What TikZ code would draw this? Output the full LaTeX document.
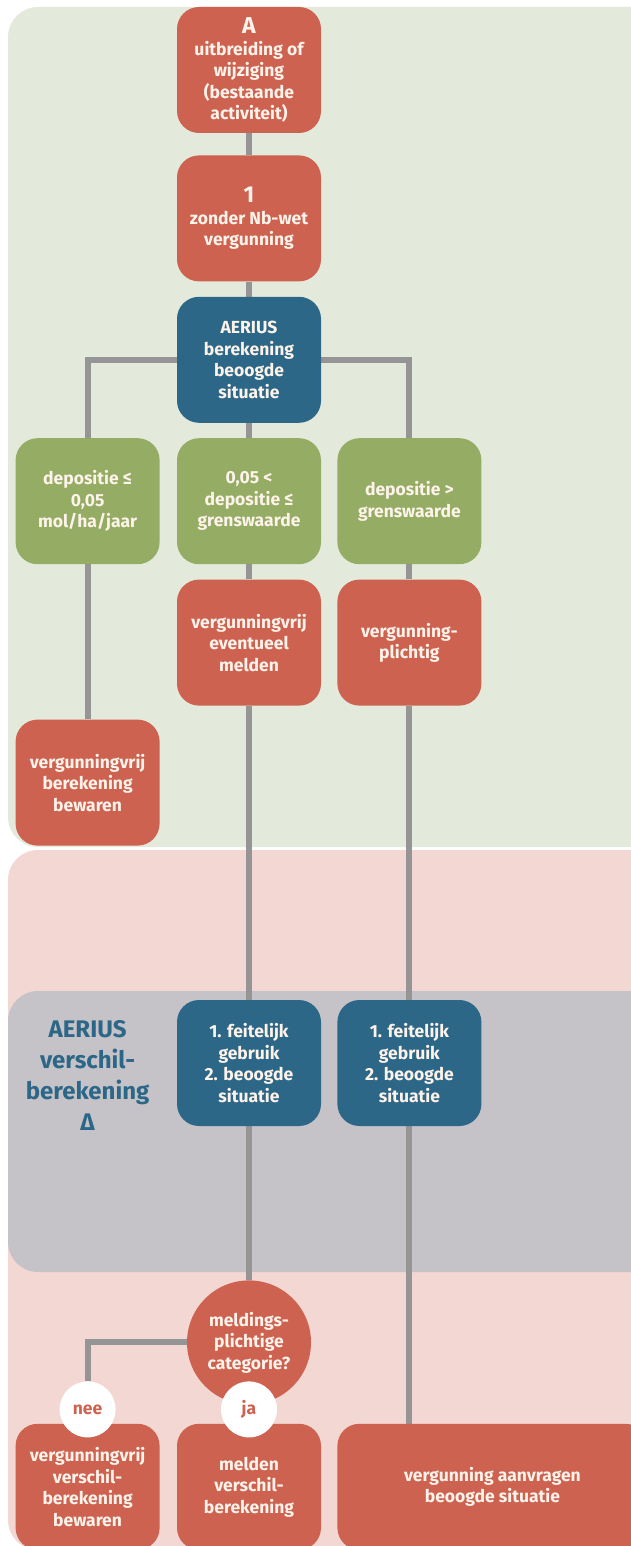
\documentclass[tikz,border=0pt]{standalone}
\usepackage{fontspec}
\setmainfont{Fira Sans}
\usepackage{xcolor}
\usetikzlibrary{positioning, backgrounds}

\definecolor{boxred}{HTML}{CD6250}
\definecolor{boxblue}{HTML}{2D6787}
\definecolor{boxgreen}{HTML}{94AC63}
\definecolor{greenbg}{HTML}{E3EADB}
\definecolor{pinkbg}{HTML}{F2D7D2}
\definecolor{graybg}{HTML}{C5C3C7}
\definecolor{linegray}{HTML}{959595}
\definecolor{textcream}{HTML}{FDF3EA}

\pgfdeclarelayer{lines}
\pgfsetlayers{background,lines,main}

\begin{document}
\begin{tikzpicture}[
        x=1pt, y=1pt,
        node distance=15pt and 17pt,
        every node/.style={font=\fontsize{17.5}{21.5}\selectfont\bfseries, text=textcream, align=center},
        redbox/.style={fill=boxred, rounded corners=22pt, minimum width=144pt, minimum height=126pt, inner sep=2pt},
        bluebox/.style={redbox, fill=boxblue},
        greenbox/.style={redbox, fill=boxgreen},
        questionbox/.style={circle, fill=boxred, minimum size=124pt, inner sep=0pt},
        answer/.style={circle, fill=white, minimum size=56pt, inner sep=0pt, text=boxred},
        bigtitle/.style={font=\fontsize{24}{31}\selectfont\bfseries, text=boxblue},
        link/.style={draw=linegray, line width=6pt}
    ]

    \clip (0,0) rectangle (631,-1546);

    % Main nodes
    \node[redbox] (start) at (249,-70) {{\fontsize{23}{22}\selectfont A}\\uitbreiding of\\wijziging\\(bestaande\\activiteit)};
    \node[redbox, below=22pt of start] (zonder) {{\fontsize{23}{25}\selectfont 1}\\zonder Nb-wet\\vergunning};
    \node[bluebox, below=of zonder] (aerius) {AERIUS\\berekening\\beoogde\\situatie};

    % Deposition classes
    \node[greenbox, below=of aerius] (depmid) {0,05 <\\depositie ≤\\grenswaarde};
    \node[greenbox, left=of depmid] (deplow) {depositie ≤\\0,05\\mol/ha/jaar};
    \node[greenbox, right=16pt of depmid] (dephigh) {depositie >\\grenswaarde};

    \node[redbox, below=of depmid] (meldvrij) {vergunningvrij\\eventueel\\melden};
    \node[redbox, below=of dephigh] (plichtig) {vergunning-\\plichtig};
    \node[redbox, below=155pt of deplow] (bewaren) {vergunningvrij\\berekening\\bewaren};

    % Difference calculation
    \node[bluebox, below=294pt of meldvrij] (verschil1) {1. feitelijk\\gebruik\\2. beoogde\\situatie};
    \node[bluebox, right=16pt of verschil1] (verschil2) {1. feitelijk\\gebruik\\2. beoogde\\situatie};
    \node[bigtitle, yshift=-12pt] (deltalabel) at (bewaren |- verschil1) {AERIUS\\verschil-\\berekening\\Δ};

    % Outcome
    \node[questionbox, below=154pt of verschil1] (categorie) {meldings-\\plichtige\\categorie?};
    \node[redbox, below=19pt of categorie] (melden) {melden\\verschil-\\berekening};
    \node[redbox, left=of melden] (verschilbew) {vergunningvrij\\verschil-\\berekening\\bewaren};
    \node[redbox, right=16pt of melden, minimum width=310pt] (aanvragen) {vergunning aanvragen\\beoogde situatie};
    \node[answer, above=-14pt of verschilbew] (nee) {nee};
    \node[answer, above=-14pt of melden] (ja) {ja};

    % Connectors
    \begin{pgfonlayer}{lines}
        \draw[link] (start) -- (zonder);
        \draw[link] (zonder) -- (aerius);
        \draw[link] (aerius) -- (depmid);
        \draw[link] (aerius) -| (deplow);
        \draw[link] (aerius) -| (dephigh);
        \draw[link] (deplow) -- (bewaren);
        \draw[link] (depmid) -- (meldvrij) -- (verschil1) -- (categorie);
        \draw[link] (dephigh) -- (plichtig) -- (verschil2) -- (verschil2 |- aanvragen.north);
        \draw[link] (categorie) -| (nee);
    \end{pgfonlayer}

    % Bands
    \begin{pgfonlayer}{background}
        \fill[greenbg, rounded corners=30pt] (8,-7) rectangle (680,-847);
        \fill[pinkbg, rounded corners=30pt] (8,-850) rectangle (680,-1550);
        \fill[graybg, rounded corners=30pt] (8,-991) rectangle (680,-1272);
    \end{pgfonlayer}

\end{tikzpicture}
\end{document}
